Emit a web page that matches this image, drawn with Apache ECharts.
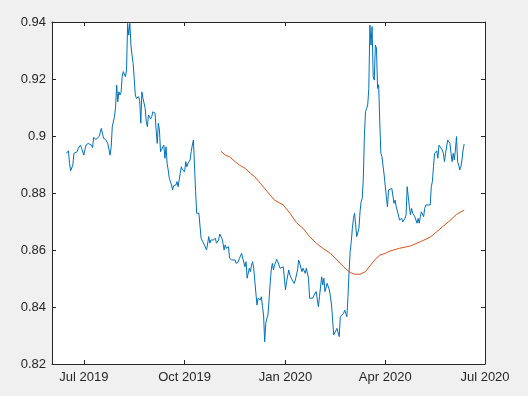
<!DOCTYPE html>
<html>
<head>
<meta charset="utf-8">
<script src="https://cdn.jsdelivr.net/npm/echarts@6/dist/echarts.min.js"></script>
<style>
html,body{margin:0;padding:0;background:#f0f0f0;}
#chart{width:528px;height:396px;}
</style>
</head>
<body>
<div id="chart"></div>
<script>
// ---- data ----
const xMinDate = '2019-06-02';
const xMaxDate = '2020-07-01';
const xTickDates = ['2019-07-01', '2019-10-01', '2020-01-01', '2020-04-01', '2020-07-01'];
const xTickLabels = ['Jul 2019', 'Oct 2019', 'Jan 2020', 'Apr 2020', 'Jul 2020'];
const yTickLabels = ['0.82', '0.84', '0.86', '0.88', '0.9', '0.92', '0.94'];

const blueDates = [
'2019-06-15','2019-06-17','2019-06-18','2019-06-19','2019-06-21','2019-06-22','2019-06-25','2019-06-26','2019-06-28','2019-06-29',
'2019-07-01','2019-07-03','2019-07-05','2019-07-08','2019-07-09','2019-07-10','2019-07-12','2019-07-13','2019-07-15','2019-07-17',
'2019-07-18','2019-07-19','2019-07-21','2019-07-23','2019-07-25','2019-07-26','2019-07-27','2019-07-29','2019-07-30','2019-07-31',
'2019-08-01','2019-08-02','2019-08-03','2019-08-04','2019-08-05','2019-08-06','2019-08-07','2019-08-08','2019-08-09','2019-08-10',
'2019-08-11','2019-08-12','2019-08-13','2019-08-14','2019-08-15','2019-08-16','2019-08-17','2019-08-18','2019-08-20','2019-08-21',
'2019-08-22','2019-08-23','2019-08-24','2019-08-26','2019-08-27','2019-08-28','2019-08-29','2019-08-30','2019-08-31','2019-09-01',
'2019-09-02','2019-09-04','2019-09-05','2019-09-06','2019-09-07','2019-09-08','2019-09-09','2019-09-10','2019-09-12','2019-09-13',
'2019-09-14','2019-09-15','2019-09-16','2019-09-17','2019-09-18','2019-09-19','2019-09-20','2019-09-21','2019-09-23','2019-09-24',
'2019-09-25','2019-09-26','2019-09-27','2019-09-28','2019-09-29','2019-10-01','2019-10-02','2019-10-03','2019-10-04','2019-10-06',
'2019-10-07','2019-10-08','2019-10-09','2019-10-10','2019-10-11','2019-10-12','2019-10-14','2019-10-15','2019-10-16','2019-10-17',
'2019-10-19','2019-10-21','2019-10-23','2019-10-24','2019-10-25','2019-10-27','2019-10-29','2019-10-30','2019-11-01','2019-11-02',
'2019-11-04','2019-11-05','2019-11-06','2019-11-07','2019-11-08','2019-11-10','2019-11-11','2019-11-13','2019-11-14','2019-11-16',
'2019-11-17','2019-11-19','2019-11-20','2019-11-22','2019-11-23','2019-11-25','2019-11-26','2019-11-27','2019-11-29','2019-11-30',
'2019-12-01','2019-12-02','2019-12-03','2019-12-05','2019-12-06','2019-12-07','2019-12-09','2019-12-10','2019-12-11','2019-12-12',
'2019-12-13','2019-12-14','2019-12-15','2019-12-16','2019-12-17','2019-12-18','2019-12-19','2019-12-20','2019-12-21','2019-12-22',
'2019-12-24','2019-12-25','2019-12-27','2019-12-28','2019-12-30','2019-12-31','2020-01-01','2020-01-02','2020-01-04','2020-01-05',
'2020-01-06','2020-01-07','2020-01-08','2020-01-09','2020-01-10','2020-01-12','2020-01-13','2020-01-14','2020-01-16','2020-01-17',
'2020-01-19','2020-01-20','2020-01-22','2020-01-23','2020-01-24','2020-01-26','2020-01-27','2020-01-29','2020-01-30','2020-01-31',
'2020-02-01','2020-02-03','2020-02-04','2020-02-05','2020-02-06','2020-02-08','2020-02-09','2020-02-10','2020-02-11','2020-02-12',
'2020-02-13','2020-02-14','2020-02-15','2020-02-17','2020-02-18','2020-02-19','2020-02-20','2020-02-21','2020-02-23','2020-02-24',
'2020-02-25','2020-02-26','2020-02-27','2020-02-28','2020-02-29','2020-03-01','2020-03-02','2020-03-03','2020-03-04','2020-03-05',
'2020-03-06','2020-03-07','2020-03-08','2020-03-09','2020-03-10','2020-03-11','2020-03-12','2020-03-13','2020-03-14','2020-03-15',
'2020-03-16','2020-03-17','2020-03-18','2020-03-19','2020-03-20','2020-03-21','2020-03-22','2020-03-23','2020-03-24','2020-03-25',
'2020-03-26','2020-03-27','2020-03-28','2020-03-29','2020-03-30','2020-03-31','2020-04-01','2020-04-02','2020-04-03','2020-04-04',
'2020-04-05','2020-04-07','2020-04-08','2020-04-09','2020-04-10','2020-04-11','2020-04-13','2020-04-14','2020-04-16','2020-04-17',
'2020-04-19','2020-04-20','2020-04-21','2020-04-22','2020-04-23','2020-04-24','2020-04-25','2020-04-26','2020-04-28','2020-04-29',
'2020-04-30','2020-05-01','2020-05-02','2020-05-03','2020-05-04','2020-05-06','2020-05-07','2020-05-08','2020-05-10','2020-05-12',
'2020-05-13','2020-05-14','2020-05-15','2020-05-16','2020-05-17','2020-05-18','2020-05-19','2020-05-20','2020-05-21','2020-05-23',
'2020-05-24','2020-05-25','2020-05-26','2020-05-28','2020-05-29','2020-05-30','2020-05-31','2020-06-01','2020-06-02','2020-06-03',
'2020-06-04','2020-06-05','2020-06-06','2020-06-07','2020-06-08','2020-06-09','2020-06-10','2020-06-11','2020-06-12'
];
const blueValues = [
0.8939,0.8948,0.8904,0.8878,0.8898,0.8939,0.8945,0.8957,0.8968,0.8957,
0.8933,0.8968,0.8974,0.8968,0.8959,0.8995,0.8988,0.8986,0.8998,0.9027,
0.9031,0.8992,0.8988,0.8972,0.8933,0.8962,0.9033,0.9068,0.9101,0.9179,
0.9120,0.9155,0.9144,0.9152,0.9208,0.9226,0.9220,0.9208,0.9232,0.9395,
0.9354,0.9395,0.9319,0.9284,0.9255,0.9202,0.9144,0.9132,0.9138,0.9123,
0.9045,0.9155,0.9132,0.9097,0.9050,0.9033,0.9074,0.9080,0.9060,0.9068,
0.9085,0.9080,0.9021,0.8974,0.9045,0.9021,0.8945,0.8951,0.8968,0.8922,
0.8962,0.8904,0.8881,0.8852,0.8852,0.8828,0.8811,0.8826,0.8828,0.8840,
0.8822,0.8846,0.8869,0.8892,0.8881,0.8875,0.8910,0.8892,0.8904,0.8916,
0.8945,0.8968,0.8986,0.8992,0.8805,0.8729,0.8729,0.8723,0.8641,0.8635,
0.8618,0.8600,0.8647,0.8624,0.8635,0.8635,0.8641,0.8624,0.8635,0.8656,
0.8641,0.8624,0.8600,0.8618,0.8606,0.8612,0.8571,0.8565,0.8559,0.8565,
0.8553,0.8559,0.8571,0.8588,0.8571,0.8541,0.8559,0.8501,0.8536,0.8524,
0.8547,0.8559,0.8536,0.8448,0.8407,0.8431,0.8425,0.8436,0.8401,0.8372,
0.8278,0.8343,0.8360,0.8372,0.8425,0.8483,0.8530,0.8553,0.8530,0.8547,
0.8567,0.8559,0.8536,0.8541,0.8541,0.8501,0.8460,0.8489,0.8530,0.8512,
0.8506,0.8495,0.8501,0.8483,0.8495,0.8530,0.8565,0.8553,0.8524,0.8536,
0.8518,0.8536,0.8501,0.8431,0.8425,0.8431,0.8442,0.8454,0.8460,0.8401,
0.8436,0.8506,0.8477,0.8501,0.8454,0.8483,0.8477,0.8460,0.8436,0.8407,
0.8354,0.8302,0.8308,0.8325,0.8331,0.8296,0.8366,0.8372,0.8378,0.8389,
0.8395,0.8366,0.8436,0.8524,0.8594,0.8629,0.8676,0.8711,0.8729,0.8688,
0.8647,0.8641,0.8676,0.8734,0.8770,0.8781,0.8852,0.9004,0.9085,0.9097,
0.9109,0.9167,0.9389,0.9319,0.9384,0.9208,0.9196,0.9319,0.9308,0.9167,
0.9180,0.9050,0.8939,0.8927,0.8922,0.8863,0.8857,0.8787,0.8752,0.8811,
0.8816,0.8816,0.8816,0.8764,0.8775,0.8752,0.8723,0.8705,0.8711,0.8699,
0.8711,0.8723,0.8822,0.8787,0.8752,0.8723,0.8746,0.8729,0.8717,0.8705,
0.8694,0.8711,0.8694,0.8717,0.8734,0.8717,0.8746,0.8758,0.8758,0.8758,
0.8822,0.8840,0.8892,0.8939,0.8945,0.8948,0.8922,0.8968,0.8962,0.8951,
0.8939,0.8910,0.8939,0.8986,0.8986,0.8974,0.8939,0.8910,0.8939,0.8916,
0.8951,0.8998,0.8910,0.8898,0.8881,0.8892,0.8916,0.8951,0.8972
];

const orangeDates = [
'2019-11-03','2019-11-07','2019-11-11','2019-11-16','2019-11-20','2019-11-25','2019-11-30','2019-12-04','2019-12-09','2019-12-18',
'2019-12-22','2019-12-30','2020-01-05','2020-01-11','2020-01-17','2020-01-23','2020-01-29','2020-02-04','2020-02-11','2020-02-17',
'2020-02-23','2020-02-29','2020-03-04','2020-03-09','2020-03-14','2020-03-18','2020-03-23','2020-03-27','2020-04-01','2020-04-05',
'2020-04-14','2020-04-24','2020-05-03','2020-05-12','2020-05-18','2020-05-24','2020-05-30','2020-06-05','2020-06-12'
];
const orangeValues = [
0.8947,0.8933,0.8927,0.8910,0.8898,0.8887,0.8869,0.8857,0.8834,0.8793,
0.8775,0.8758,0.8729,0.8696,0.8676,0.8647,0.8624,0.8606,0.8588,0.8565,
0.8541,0.8521,0.8515,0.8515,0.8524,0.8544,0.8568,0.8582,0.8588,0.8596,
0.8606,0.8614,0.8629,0.8645,0.8664,0.8684,0.8703,0.8725,0.8740
];

// ---- build chart ----
function ts(s) { const p = s.split('-').map(Number); return new Date(p[0], p[1] - 1, p[2]).getTime(); }
const xTicks = xTickDates.map(ts);
const blueData = blueDates.map((d, i) => [ts(d), blueValues[i]]);
const orangeData = orangeDates.map((d, i) => [ts(d), orangeValues[i]]);

const axisColor = '#262626';
const font = "'Liberation Sans', Arial, Helvetica, sans-serif";

function xAxisDef(pos, showLabels) {
  return {
    type: 'value', position: pos, min: ts(xMinDate), max: ts(xMaxDate),
    splitLine: { show: false },
    axisLine: { show: true, onZero: false, lineStyle: { color: axisColor, width: 1 } },
    axisTick: { show: true, inside: true, length: 4, customValues: xTicks, lineStyle: { color: axisColor } },
    axisLabel: {
      show: showLabels, customValues: xTicks, color: axisColor, fontFamily: font, fontSize: 13, margin: 7,
      showMinLabel: true, showMaxLabel: true,
      formatter: v => { const i = xTicks.indexOf(v); return i >= 0 ? xTickLabels[i] : ''; }
    }
  };
}
function yAxisDef(pos, showLabels) {
  return {
    type: 'value', position: pos, min: 0.82, max: 0.94, interval: 0.02,
    splitLine: { show: false },
    axisLine: { show: true, onZero: false, lineStyle: { color: axisColor, width: 1 } },
    axisTick: { show: true, inside: true, length: 4, lineStyle: { color: axisColor } },
    axisLabel: {
      show: showLabels, color: axisColor, fontFamily: font, fontSize: 13, margin: 6,
      formatter: v => yTickLabels[Math.round((v - 0.82) / 0.02)]
    }
  };
}

const chart = echarts.init(document.getElementById('chart'), null, { renderer: 'canvas' });
chart.setOption({
  backgroundColor: '#f0f0f0',
  animation: false,
  grid: { left: 52, right: 43, top: 22, bottom: 32, show: true, backgroundColor: '#ffffff', borderWidth: 0 },
  xAxis: [xAxisDef('bottom', true), xAxisDef('top', false)],
  yAxis: [yAxisDef('left', true), yAxisDef('right', false)],
  series: [
    { type: 'line', data: blueData, showSymbol: false, symbol: 'none', lineStyle: { color: '#0072BD', width: 1 }, itemStyle: { color: '#0072BD' } },
    { type: 'line', data: orangeData, showSymbol: false, symbol: 'none', lineStyle: { color: '#D95319', width: 1 }, itemStyle: { color: '#D95319' } }
  ]
});
</script>
</body>
</html>
